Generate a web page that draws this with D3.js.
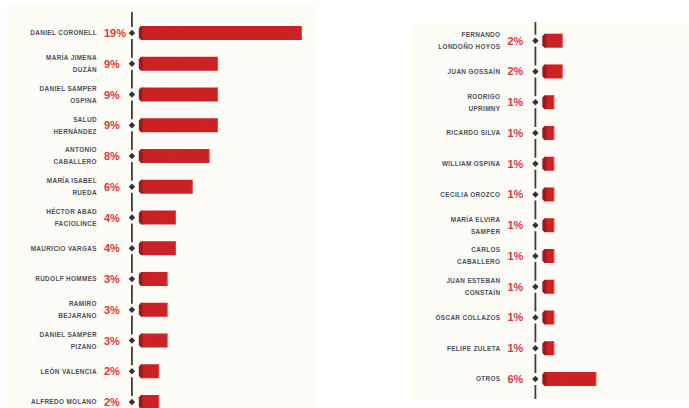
<!DOCTYPE html>
<html><head><meta charset="utf-8">
<script src="https://cdn.jsdelivr.net/npm/d3@7"></script>
<style>
html,body{margin:0;padding:0;background:#fff;}
svg{display:block;}
</style></head>
<body>
<script>
// Left column
const leftNames = ["DANIEL CORONELL","MARÍA JIMENA|DUZÁN","DANIEL SAMPER|OSPINA","SALUD|HERNÁNDEZ","ANTONIO|CABALLERO","MARÍA ISABEL|RUEDA","HÉCTOR ABAD|FACIOLINCE","MAURICIO VARGAS","RUDOLF HOMMES","RAMIRO|BEJARANO","DANIEL SAMPER|PIZANO","LEÓN VALENCIA","ALFREDO MOLANO"];
const leftValues = [19,9,9,9,8,6,4,4,3,3,3,2,2];
// Right column
const rightNames = ["FERNANDO|LONDOÑO HOYOS","JUAN GOSSAÍN","RODRIGO|UPRIMNY","RICARDO SILVA","WILLIAM OSPINA","CECILIA OROZCO","MARÍA ELVIRA|SAMPER","CARLOS|CABALLERO","JUAN ESTEBAN|CONSTAÍN","ÓSCAR COLLAZOS","FELIPE ZULETA","OTROS"];
const rightValues = [2,2,1,1,1,1,1,1,1,1,1,6];
const maxValue = 19;

const W = 689, H = 408;
const svg = d3.select("body").append("svg").attr("width", W).attr("height", H);

const defs = svg.append("defs");
const pat = defs.append("pattern").attr("id","hatch").attr("patternUnits","userSpaceOnUse")
  .attr("width",3).attr("height",3).attr("patternTransform","rotate(45)");
pat.append("rect").attr("width",3).attr("height",3).attr("fill","#cf2326");
pat.append("line").attr("x1",0).attr("y1",0).attr("x2",0).attr("y2",3)
  .attr("stroke","#b81c20").attr("stroke-width",1.2);

// panels
svg.append("rect").attr("x",7).attr("y",5).attr("width",309).attr("height",403).attr("fill","#fefcf6");
svg.append("rect").attr("x",410).attr("y",24).attr("width",279).attr("height",377).attr("fill","#fefcf6");

function panel(names, values, cfg){
  const x = d3.scaleLinear().domain([0, maxValue]).range([cfg.x0, cfg.x0 + 159.6]);
  const y = d3.scalePoint().domain(names).range(cfg.yRange);
  const g = svg.append("g");
  const axisX = x(0) - 10.5;
  // axis segments with gaps around diamonds
  const ys = names.map(n => y(n));
  const bounds = [cfg.axisTop].concat(ys, [cfg.axisBottom]);
  const segs = [];
  for (let i = 0; i < bounds.length - 1; i++) {
    const a = bounds[i] + (i === 0 ? 0 : 6);
    const b = bounds[i+1] - (i === bounds.length - 2 ? 0 : 6);
    if (b > a) segs.push([a,b]);
  }
  g.selectAll("line.ax").data(segs).join("line")
    .attr("x1",axisX).attr("x2",axisX).attr("y1",d=>d[0]).attr("y2",d=>d[1])
    .attr("stroke","#3d3d3d").attr("stroke-width",1.8);
  // diamonds
  g.selectAll("path.dm").data(names).join("path")
    .attr("d", d => { const cy = y(d); return `M${axisX},${cy-3.2}L${axisX+3.2},${cy}L${axisX},${cy+3.2}L${axisX-3.2},${cy}Z`; })
    .attr("fill","#333");
  // bars: main hatched body + darker chamfered cap
  const bh = 14;
  const data = names.map((n,i)=>({n, v: values[i]}));
  const rows = g.selectAll("g.row").data(data).join("g");
  rows.append("rect")
    .attr("x", d => x(0)).attr("y", d => y(d.n) - bh/2)
    .attr("width", d => x(d.v) - x(0)).attr("height", bh)
    .attr("fill","url(#hatch)");
  rows.append("line")
    .attr("x1", d => x(d.v) - 0.5).attr("x2", d => x(d.v) - 0.5)
    .attr("y1", d => y(d.n) - bh/2).attr("y2", d => y(d.n) + bh/2)
    .attr("stroke","#e67a7a").attr("stroke-width",1).attr("stroke-dasharray","1,1");
  rows.append("path")
    .attr("d", d => { const cy = y(d.n), x0 = x(0), t = cy - bh/2, b = cy + bh/2;
      return `M${x0+0.5},${t}L${x0-1.5},${t}L${x0-3.6},${t+2.5}L${x0-3.6},${b-2.5}L${x0-1.5},${b}L${x0+0.5},${b}Z`; })
    .attr("fill","#a5161b");
  // percent labels
  rows.append("text")
    .attr("x", axisX - 28).attr("y", d => y(d.n) + 4)
    .attr("font-family","'Liberation Sans Narrow','Liberation Sans',Arial,sans-serif")
    .attr("font-weight","bold").attr("font-size","11px").attr("fill","#e0353b")
    .text(d => d.v + "%");
  // name labels
  const lab = rows.append("text")
    .attr("text-anchor","end")
    .attr("font-family","'Liberation Sans',Arial,sans-serif")
    .attr("font-weight","bold").attr("font-size","6.4px").attr("letter-spacing","0.35px")
    .attr("fill","#4c5060");
  lab.each(function(d){
    const parts = d.n.split("|");
    const t = d3.select(this);
    const cy = y(d.n);
    parts.forEach((p,i)=>{
      const off = parts.length === 1 ? 0 : (i === 0 ? -6 : 6);
      t.append("tspan").attr("x", axisX - 35).attr("y", cy + off + 2.3).text(p);
    });
  });
}

panel(leftNames, leftValues, {x0:142.4, yRange:[33,402], axisTop:12, axisBottom:408});
panel(rightNames, rightValues, {x0:545.9, yRange:[40.7,379], axisTop:22, axisBottom:399});
</script>
</body></html>
